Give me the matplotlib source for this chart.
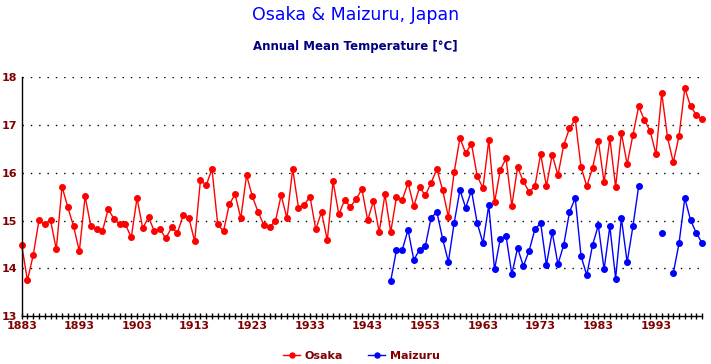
import numpy as np
import matplotlib.pyplot as plt

# Anos e temperaturas médias anuais (°C)
anos = np.arange(1883, 2002)

osaka = [
    14.49, 13.75, 14.28, 15.01, 14.92, 15.01, 14.40, 15.71, 15.28, 14.88,  # 1883-1892
    14.36, 15.51, 14.88, 14.82, 14.78, 15.24, 15.04, 14.92, 14.92, 14.65,  # 1893-1902
    15.47, 14.84, 15.07, 14.78, 14.82, 14.63, 14.86, 14.74, 15.11, 15.05,  # 1903-1912
    14.57, 15.85, 15.74, 16.08, 14.92, 14.78, 15.34, 15.55, 15.05, 15.95,  # 1913-1922
    15.51, 15.18, 14.91, 14.87, 14.99, 15.53, 15.05, 16.08, 15.27, 15.33,  # 1923-1932
    15.50, 14.82, 15.18, 14.59, 15.82, 15.13, 15.43, 15.29, 15.45, 15.66,  # 1933-1942
    15.01, 15.41, 14.76, 15.55, 14.76, 15.50, 15.43, 15.79, 15.30, 15.70,  # 1943-1952
    15.53, 15.79, 16.08, 15.64, 15.08, 16.01, 16.73, 16.41, 16.61, 15.93,  # 1953-1962
    15.68, 16.68, 15.38, 16.06, 16.30, 15.31, 16.12, 15.82, 15.60, 15.72,  # 1963-1972
    16.39, 15.72, 16.38, 15.95, 16.58, 16.93, 17.12, 16.12, 15.72, 16.10,  # 1973-1982
    16.67, 15.80, 16.72, 15.70, 16.83, 16.18, 16.79, 17.39, 17.10, 16.87,  # 1983-1992
    16.39, 17.67, 16.74, 16.22, 16.77, 17.77, 17.39, 17.21, 17.12,         # 1993-2001
]

nan = np.nan
maizuru = [nan] * (1947 - 1883) + [
    13.74, 14.39, 14.39, 14.81, 14.18, 14.39,                              # 1947-1952
    14.47, 15.06, 15.18, 14.62, 14.14, 14.95, 15.64, 15.27, 15.63, 14.95,  # 1953-1962
    14.53, 15.32, 13.98, 14.62, 14.68, 13.88, 14.43, 14.05, 14.37, 14.82,  # 1963-1972
    14.95, 14.07, 14.76, 14.09, 14.49, 15.18, 15.47, 14.26, 13.86, 14.49,  # 1973-1982
    14.90, 13.98, 14.88, 13.79, 15.05, 14.13, 14.88, 15.72, nan, nan,      # 1983-1992
    nan, 14.74, nan, 13.90, 14.53, 15.47, 15.01, 14.74, 14.53,             # 1993-2001
]

anos_rotulo = np.arange(1883, 2002, 10)
temps_rotulo = [13, 14, 15, 16, 17, 18]

vermelho_escuro = '#800000'

fig = plt.figure(figsize=(7.11, 3.64), dpi=100)
ax = fig.add_axes([0.0305, 0.131, 0.957, 0.657])

ax.plot(anos, osaka, color='#ff0000', lw=1, marker='o', ms=4, label='Osaka', clip_on=False)
ax.plot(anos, maizuru, color='#0000ff', lw=1, marker='o', ms=4, label='Maizuru', clip_on=False)

ax.set_xlim(1883, 2001)
ax.set_ylim(13, 18)

# Grade horizontal pontilhada
for t in temps_rotulo[1:]:
    ax.axhline(t, color='black', lw=1, ls=(0, (1, 5)), zorder=0)

for lado in ['top', 'right']:
    ax.spines[lado].set_visible(False)
for lado in ['left', 'bottom']:
    ax.spines[lado].set_color('black')
    ax.spines[lado].set_linewidth(1)

ax.set_xticks(anos, minor=True)
ax.set_xticks(anos_rotulo)
ax.set_xticklabels([str(a) for a in anos_rotulo])
ax.tick_params(axis='x', which='both', direction='inout', length=5, width=1,
               colors='black', labelcolor=vermelho_escuro, labelsize=8, pad=1)
ax.set_yticks(temps_rotulo)
ax.tick_params(axis='y', length=0, labelcolor=vermelho_escuro, labelsize=8, pad=3)
for lbl in ax.get_xticklabels() + ax.get_yticklabels():
    lbl.set_fontweight('bold')

fig.text(0.5, 0.958, 'Osaka & Maizuru, Japan', ha='center', va='center',
         color='#0000ff', fontsize=12.5)
fig.text(0.5, 0.872, 'Annual Mean Temperature [°C]', ha='center', va='center',
         color='#000080', fontsize=8.5, fontweight='bold')

leg = fig.legend(loc='center', bbox_to_anchor=(0.508, 0.022), ncol=2, frameon=False,
                 fontsize=8, handlelength=1.6, columnspacing=2.2, markerscale=0.9,
                 handletextpad=0.4)
for txt in leg.get_texts():
    txt.set_color(vermelho_escuro)
    txt.set_fontweight('bold')

fig.savefig('out.png', dpi=100)
